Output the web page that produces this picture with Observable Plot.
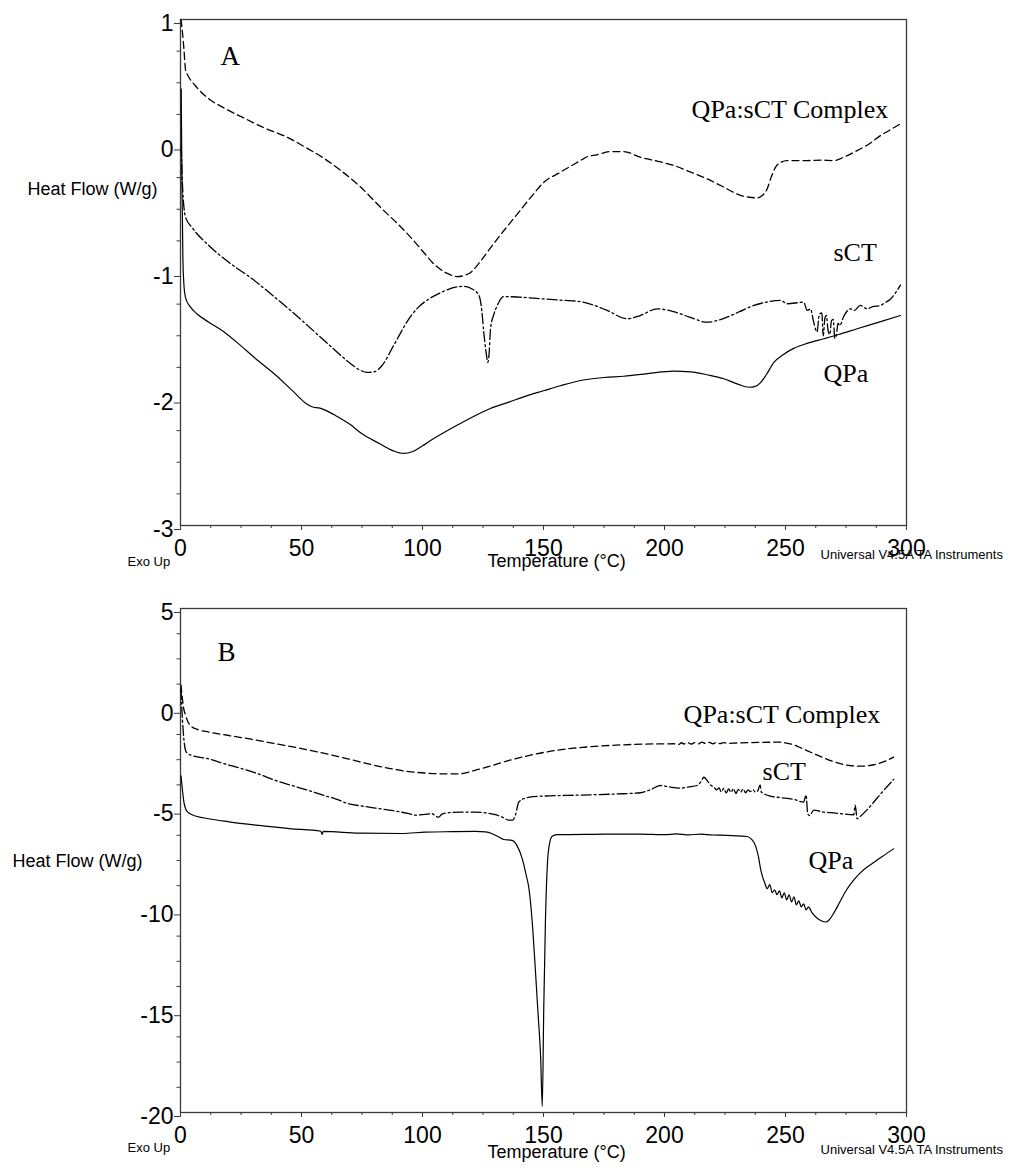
<!DOCTYPE html>
<html>
<head>
<meta charset="utf-8">
<script src="https://cdn.jsdelivr.net/npm/d3@7"></script>
<script src="https://cdn.jsdelivr.net/npm/@observablehq/plot@0.6"></script>
<style>
  html, body { margin: 0; padding: 0; background: #fff; }
  #chart { width: 1013px; height: 1173px; position: relative; }
  #chart svg { display: block; overflow: visible; }
</style>
</head>
<body>
<div id="chart"></div>
<script>
// ---------- Panel A data: [Temperature (°C), Heat Flow (W/g)] ----------
const complexA = [[0.2,1.0],[0.8,0.9],[1.4,0.77],[2.1,0.6],[3,0.56],[6,0.48],[11.7,0.373],[18,0.30],[25.5,0.228],[35,0.14],[44,0.07],[51.6,-0.01],[58.5,-0.088],[66,-0.19],[73.7,-0.312],[83.3,-0.497],[90,-0.62],[95.7,-0.734],[100,-0.83],[105.4,-0.945],[110,-1.005],[114.3,-1.032],[119.1,-1.01],[124,-0.91],[128.8,-0.787],[134,-0.66],[139.8,-0.523],[145,-0.40],[150,-0.29],[157,-0.207],[163,-0.14],[166.6,-0.10],[168,-0.085],[172,-0.07],[177.7,-0.044],[183.2,-0.044],[190,-0.088],[197,-0.12],[203.8,-0.154],[210,-0.20],[217.6,-0.26],[224,-0.32],[231.4,-0.39],[235,-0.405],[238.3,-0.41],[240.5,-0.39],[242.4,-0.34],[244,-0.25],[245.9,-0.167],[248,-0.13],[250.7,-0.115],[258.9,-0.115],[265,-0.112],[269.9,-0.115],[275,-0.08],[279.6,-0.036],[284,0.01],[289.3,0.083],[293,0.125],[297.5,0.175]];
const sctA = [[0.3,0.0],[0.8,-0.3],[1.5,-0.5],[2.1,-0.563],[5,-0.65],[11.7,-0.787],[20,-0.92],[29.6,-1.05],[38,-1.18],[46.1,-1.31],[52,-1.41],[57.2,-1.50],[63,-1.60],[69.6,-1.71],[74,-1.77],[77.1,-1.79],[80,-1.785],[83.3,-1.735],[88,-1.58],[94.4,-1.366],[98,-1.28],[102.6,-1.21],[108,-1.155],[113.6,-1.116],[117,-1.11],[120.5,-1.13],[123.3,-1.18],[124.5,-1.3],[125.3,-1.47],[126.2,-1.62],[127,-1.71],[127.6,-1.62],[128.1,-1.445],[129.5,-1.33],[130.9,-1.26],[133.6,-1.19],[140,-1.195],[150.8,-1.21],[158,-1.22],[165.3,-1.23],[171,-1.26],[176.3,-1.30],[184.6,-1.366],[190,-1.34],[197,-1.287],[203.8,-1.31],[210,-1.35],[217.6,-1.393],[225.8,-1.353],[231,-1.31],[236.9,-1.26],[242,-1.235],[247.9,-1.22],[250.7,-1.247],[257.5,-1.235],[259,-1.3],[260.3,-1.287],[261.5,-1.38],[263,-1.47],[264,-1.33],[265,-1.32],[265.6,-1.5],[266.3,-1.36],[266.9,-1.34],[267.6,-1.46],[268.3,-1.49],[269,-1.38],[269.7,-1.37],[270.4,-1.52],[271,-1.5],[271.7,-1.4],[272.4,-1.42],[274,-1.35],[276.8,-1.287],[278.5,-1.30],[280.9,-1.26],[283.7,-1.287],[286,-1.27],[289.3,-1.26],[291,-1.24],[293.4,-1.21],[295.5,-1.16],[297.5,-1.10]];
const qpaA = [[0.3,0.45],[0.6,-0.3],[1.0,-0.9],[1.5,-1.12],[2.1,-1.2],[4,-1.27],[7,-1.33],[11.7,-1.393],[18,-1.47],[25,-1.58],[31,-1.68],[39.3,-1.81],[46,-1.93],[53,-2.05],[55,-2.065],[57.2,-2.07],[60,-2.09],[64,-2.13],[70,-2.2],[75,-2.275],[82,-2.35],[88,-2.41],[92,-2.43],[96,-2.415],[100,-2.37],[104,-2.32],[108,-2.275],[115,-2.2],[121.9,-2.13],[128,-2.075],[135.7,-2.025],[143,-1.975],[150,-1.935],[157,-1.895],[165.3,-1.854],[175,-1.83],[183.2,-1.82],[193,-1.80],[203.8,-1.78],[210.7,-1.785],[218,-1.81],[224.5,-1.84],[230,-1.88],[234.9,-1.907],[237.5,-1.9],[239.7,-1.87],[242,-1.81],[245.2,-1.71],[249,-1.65],[253.4,-1.60],[259,-1.56],[265.8,-1.524],[272,-1.49],[279.6,-1.445],[289,-1.39],[297.5,-1.34]];

// ---------- Panel B data ----------
const complexB = [[0.2,1.2],[0.8,0.5],[1.4,0.0],[2.1,-0.31],[3,-0.6],[4.8,-0.88],[7,-1.0],[11.7,-1.13],[20,-1.3],[30,-1.5],[39.3,-1.71],[50,-1.95],[60,-2.2],[70,-2.48],[80.6,-2.79],[88,-2.97],[94.4,-3.09],[101,-3.16],[108.1,-3.2],[115,-3.2],[121,-3.05],[128.8,-2.79],[135,-2.56],[142.6,-2.33],[150,-2.14],[156,-2.02],[162.5,-1.93],[170,-1.85],[183.2,-1.76],[195,-1.72],[203.8,-1.71],[206,-1.74],[207,-1.66],[208,-1.72],[209.5,-1.64],[211,-1.73],[212.5,-1.65],[214,-1.72],[215.5,-1.63],[217,-1.7],[218.5,-1.64],[220,-1.71],[221.5,-1.64],[223,-1.7],[224.5,-1.65],[226,-1.69],[230,-1.67],[240,-1.64],[247.9,-1.63],[250.5,-1.68],[253.4,-1.76],[257,-1.95],[261.7,-2.2],[267,-2.47],[272.7,-2.7],[277,-2.8],[281,-2.82],[286.5,-2.75],[291,-2.58],[294.7,-2.37]];
const sctB = [[0.2,1.0],[0.8,-0.5],[1.4,-1.5],[2.1,-2.04],[3,-2.2],[4.8,-2.29],[11.7,-2.46],[18,-2.7],[25.5,-2.95],[32,-3.2],[39.3,-3.53],[46,-3.78],[53,-4.03],[58,-4.22],[60,-4.3],[64,-4.44],[69.6,-4.69],[75,-4.8],[80.6,-4.9],[88,-5.03],[94.4,-5.18],[97,-5.25],[100,-5.22],[102,-5.2],[104,-5.18],[105.5,-5.3],[106.7,-5.35],[108,-5.2],[110.9,-5.13],[116,-5.1],[121.9,-5.1],[127,-5.15],[130.2,-5.23],[133,-5.35],[135.7,-5.5],[137.3,-5.5],[138.5,-5.2],[139.8,-4.6],[142.6,-4.4],[146,-4.33],[150.8,-4.3],[160,-4.27],[170,-4.24],[180,-4.2],[190,-4.14],[194,-4.0],[198.3,-3.78],[202,-3.85],[206.6,-3.91],[210,-3.85],[213.5,-3.78],[215,-3.6],[216.3,-3.37],[218,-3.6],[219,-3.75],[220.4,-3.86],[221.5,-4.0],[222.5,-3.9],[223.5,-4.1],[224.5,-3.92],[225.5,-4.15],[226.5,-3.95],[227.5,-4.12],[228.5,-3.93],[229.5,-4.18],[230.5,-3.97],[231.5,-4.1],[232.5,-3.96],[233.5,-4.14],[234.5,-4.0],[235.5,-4.08],[236.5,-3.98],[237.5,-4.1],[238.5,-4.05],[239.5,-3.75],[240,-4.1],[243.8,-4.31],[248,-4.38],[253.4,-4.47],[257.5,-4.6],[258.5,-4.25],[259.2,-5.2],[260,-5.27],[261.7,-5.0],[265,-5.08],[268.5,-5.13],[273,-5.18],[278.2,-5.23],[278.8,-4.75],[279.6,-5.43],[281,-5.3],[284,-4.95],[286.5,-4.6],[290,-4.1],[294.7,-3.48]];
const qpaB = [[0.2,-3.3],[0.8,-4.0],[1.4,-4.6],[2.1,-4.93],[3,-5.1],[4.8,-5.23],[11.7,-5.43],[20,-5.58],[32.4,-5.76],[45,-5.92],[58,-6.05],[58.5,-6.2],[59,-6.06],[73.7,-6.14],[91.6,-6.16],[101.2,-6.09],[112,-6.07],[121.9,-6.06],[126,-6.08],[128.8,-6.17],[131,-6.3],[133.6,-6.46],[137,-6.5],[139,-6.75],[141.2,-7.41],[142.8,-8.2],[144,-8.9],[145.5,-10.8],[146.7,-13.04],[147.8,-15.2],[148.8,-17.2],[149.5,-19.7],[150.1,-14.86],[150.8,-10.5],[151.7,-7.5],[152.6,-6.6],[153.6,-6.3],[155.6,-6.22],[170,-6.2],[190,-6.19],[200,-6.22],[205,-6.18],[210,-6.23],[215,-6.19],[217.6,-6.22],[222,-6.24],[228,-6.27],[234.1,-6.31],[236,-6.45],[237.6,-6.76],[238.8,-7.3],[239.7,-7.91],[240.5,-8.3],[241.4,-8.6],[242.4,-8.9],[243.5,-8.7],[244.5,-9.1],[245.5,-8.95],[246.5,-9.2],[247.5,-9.0],[248.5,-9.35],[249.5,-9.1],[250.5,-9.45],[251.5,-9.2],[252.5,-9.55],[253.5,-9.3],[254.5,-9.7],[255.5,-9.5],[256.5,-9.8],[257.5,-9.65],[258.5,-9.95],[259.5,-9.8],[261,-10.1],[263,-10.35],[265,-10.5],[266.5,-10.55],[268,-10.45],[270,-10.1],[272.5,-9.55],[275,-9.0],[278,-8.5],[281,-8.1],[284,-7.8],[287,-7.55],[290,-7.3],[294.7,-6.92]];

// ---------- ticks & labels ----------
const xTicks = [0, 50, 100, 150, 200, 250, 300];
const xMinorTicks = d3.range(0, 300.1, 12.5).filter(v => v % 50 !== 0);
const yTicksA = [1, 0, -1, -2, -3];
const yMinorTicksA = d3.range(-3, 1.01, 0.25).filter(v => Math.abs(v - Math.round(v)) > 1e-9);
const yTicksB = [5, 0, -5, -10, -15, -20];
const yMinorTicksB = d3.range(-20, 5.01, 1.25).filter(v => Math.abs(v / 5 - Math.round(v / 5)) > 1e-9);
const seriesNames = ["QPa:sCT Complex", "sCT", "QPa"];
const panelLetters = ["A", "B"];
const yLabel = "Heat Flow (W/g)";
const xLabel = "Temperature (°C)";
const cornerLeft = "Exo Up";
const cornerRight = "Universal V4.5A TA Instruments";

const SANS = "Liberation Sans, Arial, Helvetica, sans-serif";
const SERIF = "Liberation Serif, Times New Roman, serif";
const AXIS = "#3a3a3a";

function lineMarks(complex, sct, qpa) {
  const common = {x: d => d[0], y: d => d[1], stroke: "#000", curve: "monotone-x"};
  return [
    Plot.line(complex, {...common, strokeWidth: 1.3, strokeDasharray: "7,4"}),
    Plot.line(sct, {...common, strokeWidth: 1.3, strokeDasharray: "10,3,2,3"}),
    Plot.line(qpa, {...common, strokeWidth: 1.2})
  ];
}

function axisMarks(yTicks, yMinor) {
  return [
    Plot.frame({stroke: AXIS, strokeWidth: 1.3}),
    Plot.axisX({ticks: xMinorTicks, tickSize: 3, tickFormat: () => "", stroke: AXIS, label: null}),
    Plot.axisX({ticks: xTicks, tickSize: 5, tickPadding: 9, fontSize: 23, fontFamily: SANS, fill: "#000", stroke: AXIS, tickFormat: d => String(d), label: null}),
    Plot.axisY({ticks: yMinor, tickSize: 3.5, tickFormat: () => "", stroke: AXIS, label: null}),
    Plot.axisY({ticks: yTicks, tickSize: 6, tickPadding: 1, fontSize: 23, fontFamily: SANS, fill: "#000", stroke: AXIS, dy: 4, tickFormat: d => String(d), label: null})
  ];
}

function txt(s, x, y, opts) {
  return Plot.text([s], {x: () => x, y: () => y, text: d => d, lineAnchor: "bottom", fill: "#000", ...opts});
}

const chartA = Plot.plot({
  width: 1013, height: 585,
  marginTop: 19, marginLeft: 180, marginRight: 107, marginBottom: 60,
  x: {domain: [0, 300]},
  y: {domain: [-3, 1]},
  style: {fontFamily: SANS, background: "#fff", overflow: "visible"},
  marks: [
    ...axisMarks(yTicksA, yMinorTicksA),
    ...lineMarks(complexA, sctA, qpaA),
    txt(panelLetters[0], 16.5, 0.644, {textAnchor: "start", fontSize: 27, fontFamily: SERIF}),
    txt(seriesNames[0], 211.2, 0.225, {textAnchor: "start", fontSize: 26, fontFamily: SERIF}),
    txt(seriesNames[1], 269.8, -0.913, {textAnchor: "start", fontSize: 26, fontFamily: SERIF}),
    txt(seriesNames[2], 265.7, -1.862, {textAnchor: "start", fontSize: 26, fontFamily: SERIF}),
    txt(yLabel, -63.2, -0.391, {textAnchor: "start", fontSize: 18, fontFamily: SANS}),
    txt(cornerLeft, -21.9, -3.324, {textAnchor: "start", fontSize: 13, fontFamily: SANS}),
    txt(xLabel, 155.4, -3.332, {textAnchor: "middle", fontSize: 18, fontFamily: SANS}),
    txt(cornerRight, 264.5, -3.261, {textAnchor: "start", fontSize: 13, fontFamily: SANS})
  ]
});

const chartB = Plot.plot({
  width: 1013, height: 588,
  marginTop: 23, marginLeft: 180, marginRight: 107, marginBottom: 61,
  x: {domain: [0, 300]},
  y: {domain: [-20, 5]},
  style: {fontFamily: SANS, background: "#fff", overflow: "visible"},
  marks: [
    ...axisMarks(yTicksB, yMinorTicksB),
    ...lineMarks(complexB, sctB, qpaB),
    txt(panelLetters[1], 15.3, 2.42, {textAnchor: "start", fontSize: 27, fontFamily: SERIF}),
    txt(seriesNames[0], 207.9, -0.655, {textAnchor: "start", fontSize: 26, fontFamily: SERIF}),
    txt(seriesNames[1], 240.5, -3.53, {textAnchor: "start", fontSize: 26, fontFamily: SERIF}),
    txt(seriesNames[2], 259.5, -7.946, {textAnchor: "start", fontSize: 26, fontFamily: SERIF}),
    txt(yLabel, -69.4, -7.80, {textAnchor: "start", fontSize: 18, fontFamily: SANS}),
    txt(cornerLeft, -21.9, -21.98, {textAnchor: "start", fontSize: 13, fontFamily: SANS}),
    txt(xLabel, 155.4, -22.28, {textAnchor: "middle", fontSize: 18, fontFamily: SANS}),
    txt(cornerRight, 264.5, -22.08, {textAnchor: "start", fontSize: 13, fontFamily: SANS})
  ]
});

const root = document.getElementById("chart");
root.appendChild(chartA);
root.appendChild(chartB);
</script>
</body>
</html>
